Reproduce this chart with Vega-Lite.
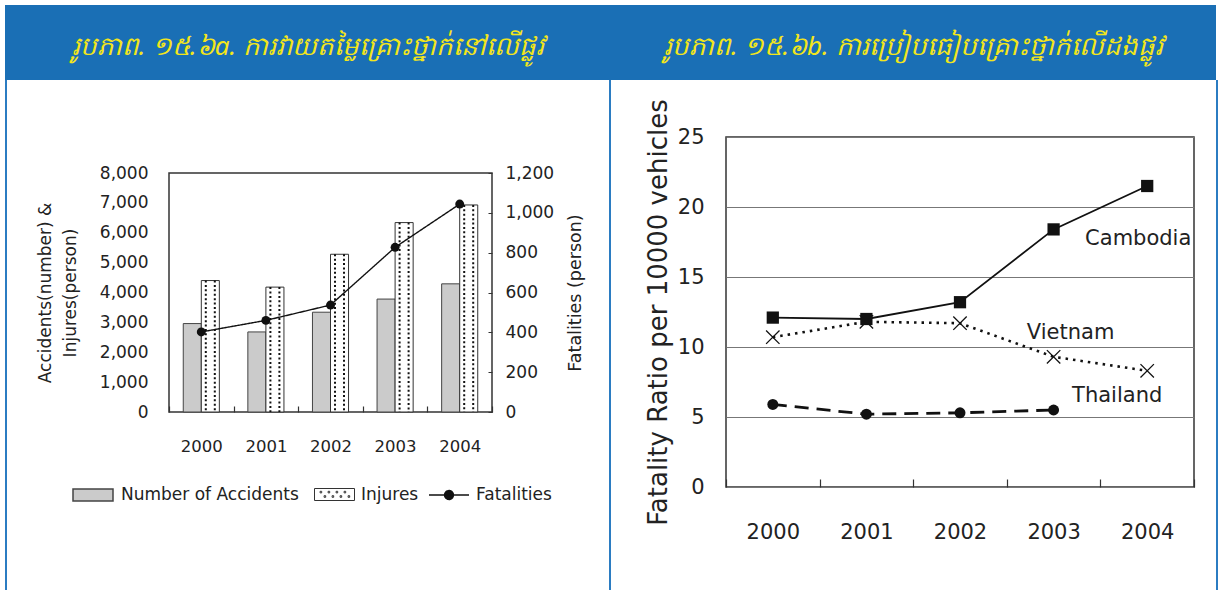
{
  "$schema": "https://vega.github.io/schema/vega-lite/v6.json",
  "background": "white",
  "padding": {"left": 5, "top": 5, "right": 0, "bottom": 0},
  "spacing": 0,
  "config": {
    "font": "DejaVu Sans",
    "view": {"stroke": "#333333", "strokeWidth": 1.5},
    "axis": {"labelColor": "#222222", "titleColor": "#222222", "titleFontWeight": "normal", "domain": false, "grid": false, "labelFont": "DejaVu Sans", "titleFont": "DejaVu Sans", "labelOverlap": false},
    "legend": {"labelFont": "DejaVu Sans"}
  },
  "datasets": {
    "bars": [
      {"year": "2000", "series": "Number of Accidents", "value": 2960},
      {"year": "2000", "series": "Injures", "value": 4400},
      {"year": "2001", "series": "Number of Accidents", "value": 2680},
      {"year": "2001", "series": "Injures", "value": 4180},
      {"year": "2002", "series": "Number of Accidents", "value": 3340},
      {"year": "2002", "series": "Injures", "value": 5280},
      {"year": "2003", "series": "Number of Accidents", "value": 3780},
      {"year": "2003", "series": "Injures", "value": 6340},
      {"year": "2004", "series": "Number of Accidents", "value": 4290},
      {"year": "2004", "series": "Injures", "value": 6930}
    ],
    "fatal": [
      {"year": "2000", "value": 402},
      {"year": "2001", "value": 460},
      {"year": "2002", "value": 537},
      {"year": "2003", "value": 827},
      {"year": "2004", "value": 1044}
    ],
    "ratio": [
      {"country": "Cambodia", "year": "2000", "value": 12.1},
      {"country": "Cambodia", "year": "2001", "value": 12.0},
      {"country": "Cambodia", "year": "2002", "value": 13.2},
      {"country": "Cambodia", "year": "2003", "value": 18.4},
      {"country": "Cambodia", "year": "2004", "value": 21.5},
      {"country": "Vietnam", "year": "2000", "value": 10.7},
      {"country": "Vietnam", "year": "2001", "value": 11.8},
      {"country": "Vietnam", "year": "2002", "value": 11.7},
      {"country": "Vietnam", "year": "2003", "value": 9.3},
      {"country": "Vietnam", "year": "2004", "value": 8.3},
      {"country": "Thailand", "year": "2000", "value": 5.9},
      {"country": "Thailand", "year": "2001", "value": 5.2},
      {"country": "Thailand", "year": "2002", "value": 5.3},
      {"country": "Thailand", "year": "2003", "value": 5.5}
    ]
  },
  "vconcat": [
    {
      "width": 1211,
      "height": 75,
      "view": {"fill": "#1a6fb5", "stroke": null},
      "data": {"values": [
        {"k": "a", "t": "រូបភាព. ១៥.៦a. ការវាយតម្លៃគ្រោះថ្នាក់នៅលើផ្លូវ"},
        {"k": "b", "t": "រូបភាព. ១៥.៦b. ការប្រៀបធៀបគ្រោះថ្នាក់លើដងផ្លូវ"}
      ]},
      "mark": {"type": "text", "color": "#f3e61a", "fontSize": 26, "fontStyle": "italic", "font": "Noto Sans", "dy": 4},
      "encoding": {
        "x": {"field": "k", "type": "nominal", "scale": {"type": "point", "padding": 0.5}, "axis": null},
        "text": {"field": "t"}
      }
    },
    {
      "spacing": 0,
      "hconcat": [
        {"width": 2, "height": 510, "view": {"fill": "#2b7cc2", "stroke": null}, "data": {"values": []}, "mark": "point"},
        {"width": 28, "height": 1, "view": {"stroke": null}, "data": {"values": []}, "mark": "point"},
        {
          "spacing": 0,
          "vconcat": [
            {"width": 10, "height": 83, "view": {"stroke": null}, "data": {"values": []}, "mark": "point"},
            {
              "width": 323,
              "height": 239,
              "layer": [
                {
                  "layer": [
                    {
                      "data": {"name": "bars"},
                      "transform": [{"filter": "datum.series === 'Number of Accidents'"}],
                      "mark": {"type": "bar", "stroke": "#444444", "strokeWidth": 1},
                      "encoding": {
                        "x": {"field": "year", "type": "ordinal", "scale": {"paddingInner": 0, "paddingOuter": 0},
                          "axis": {"title": null, "labelAngle": 0, "labelFontSize": 16.5, "tickBand": "extent", "tickSize": -6, "tickColor": "#333333", "tickWidth": 1.2, "labelPadding": 32}},
                        "xOffset": {"field": "series", "type": "nominal", "sort": ["Number of Accidents", "Injures"], "scale": {"domain": ["Number of Accidents", "Injures"], "paddingInner": 0, "paddingOuter": 0.79}},
                        "y": {"field": "value", "type": "quantitative", "scale": {"domain": [0, 8000]},
                          "axis": {"title": ["Accidents(number) &", "Injures(person)"], "values": [0, 1000, 2000, 3000, 4000, 5000, 6000, 7000, 8000], "tickCount": 12, "format": ",d", "labelOverlap": false, "labelFontSize": 17, "ticks": false, "labelPadding": 21, "titleFontSize": 17, "titleLineHeight": 25, "titlePadding": 20}},
                        "fill": {"datum": "Number of Accidents", "type": "nominal", "scale": {"range": ["#cbcbcb"]},
                          "legend": {"orient": "none", "legendX": 67, "legendY": 469, "title": null, "symbolType": "M-1,-0.3H1V0.3H-1Z", "symbolSize": 1600, "labelFontSize": 17, "labelOffset": 7, "labelColor": "#222222", "labelLimit": 400}}
                      }
                    },
                    {
                      "data": {"name": "bars"},
                      "transform": [{"filter": "datum.series === 'Injures'"}],
                      "mark": {"type": "bar", "fill": "#ffffff", "strokeWidth": 1},
                      "encoding": {
                        "x": {"field": "year", "type": "ordinal"},
                        "xOffset": {"field": "series", "type": "nominal", "sort": ["Number of Accidents", "Injures"], "scale": {"domain": ["Number of Accidents", "Injures"]}},
                        "y": {"field": "value", "type": "quantitative", "scale": {"domain": [0, 8000]}},
                        "stroke": {"datum": "Injures", "type": "nominal", "scale": {"range": ["#333333"]},
                          "legend": {"orient": "none", "legendX": 309, "legendY": 469, "title": null, "symbolType": "M-1,-0.3H1V0.3H-1ZM-0.72,-0.16h0.08v0.08h-0.08ZM-0.32,-0.16h0.08v0.08h-0.08ZM0.08,-0.16h0.08v0.08h-0.08ZM0.48,-0.16h0.08v0.08h-0.08ZM-0.52,0.06h0.08v0.08h-0.08ZM-0.12,0.06h0.08v0.08h-0.08ZM0.28,0.06h0.08v0.08h-0.08ZM0.68,0.06h0.08v0.08h-0.08Z", "symbolSize": 1600, "symbolStrokeWidth": 1, "labelFontSize": 17, "labelOffset": 6, "labelColor": "#222222", "labelLimit": 400}}
                      }
                    },
                    {
                      "data": {"name": "bars"},
                      "transform": [{"filter": "datum.series === 'Injures'"}],
                      "mark": {"type": "rule", "color": "#111111", "strokeWidth": 2, "strokeDash": [2, 2.4], "xOffset": 4.5},
                      "encoding": {
                        "x": {"field": "year", "type": "ordinal"},
                        "y": {"field": "value", "type": "quantitative"},
                        "y2": {"datum": 0}
                      }
                    },
                    {
                      "data": {"name": "bars"},
                      "transform": [{"filter": "datum.series === 'Injures'"}],
                      "mark": {"type": "rule", "color": "#111111", "strokeWidth": 2, "strokeDash": [2, 2.4], "xOffset": 13.5},
                      "encoding": {
                        "x": {"field": "year", "type": "ordinal"},
                        "y": {"field": "value", "type": "quantitative"},
                        "y2": {"datum": 0}
                      }
                    }
                  ]
                },
                {
                  "data": {"name": "fatal"},
                  "layer": [
                    {
                      "mark": {"type": "line", "color": "#111111", "strokeWidth": 1.4},
                      "encoding": {
                        "x": {"field": "year", "type": "ordinal"},
                        "y": {"field": "value", "type": "quantitative", "scale": {"domain": [0, 1200]},
                          "axis": {"orient": "right", "title": "Fatalities (person)", "titleAngle": 270, "titleBaseline": "top", "values": [0, 200, 400, 600, 800, 1000, 1200], "tickCount": 12, "format": ",d", "labelOverlap": false, "labelFontSize": 17, "ticks": true, "tickSize": -4, "tickColor": "#333333", "labelPadding": 17, "titleFontSize": 17.5, "titlePadding": 13}},
                        "strokeDash": {"datum": "Fatalities", "type": "nominal", "scale": {"range": [[1, 0]]},
                          "legend": {"orient": "none", "legendX": 423, "legendY": 469, "title": null, "symbolType": "M-1,0H1M-0.22,0A0.22,0.22 0 1 1 0.22,0A0.22,0.22 0 1 1 -0.22,0Z", "symbolSize": 1600, "symbolFillColor": "#111111", "symbolStrokeColor": "#111111", "symbolStrokeWidth": 1.5, "labelFontSize": 17, "labelOffset": 6, "labelColor": "#222222", "labelLimit": 400}}
                      }
                    },
                    {
                      "mark": {"type": "point", "filled": true, "size": 80, "color": "#111111", "opacity": 1},
                      "encoding": {
                        "x": {"field": "year", "type": "ordinal"},
                        "y": {"field": "value", "type": "quantitative"}
                      }
                    }
                  ]
                }
              ],
              "resolve": {"scale": {"y": "independent"}}
            }
          ]
        },
        {"width": 24, "height": 1, "view": {"stroke": null}, "data": {"values": []}, "mark": "point"},
        {"width": 2, "height": 510, "view": {"fill": "#2b7cc2", "stroke": null}, "data": {"values": []}, "mark": "point"},
        {"width": 33, "height": 1, "view": {"stroke": null}, "data": {"values": []}, "mark": "point"},
        {
          "spacing": 0,
          "vconcat": [
            {"width": 10, "height": 17, "view": {"stroke": null}, "data": {"values": []}, "mark": "point"},
            {
              "width": 468,
              "height": 350,
              "data": {"name": "ratio"},
              "layer": [
                {
                  "transform": [{"filter": "datum.country === 'Cambodia'"}],
                  "mark": {"type": "line", "color": "#111111", "strokeWidth": 1.8},
                  "encoding": {
                    "x": {"field": "year", "type": "ordinal", "scale": {"paddingInner": 0, "paddingOuter": 0},
                      "axis": {"title": null, "labelAngle": 0, "labelFontSize": 21, "tickBand": "extent", "tickSize": -8, "tickColor": "#333333", "tickWidth": 1.2, "labelPadding": 42}},
                    "y": {"field": "value", "type": "quantitative", "scale": {"domain": [0, 25], "nice": false},
                      "axis": {"title": "Fatality Ratio per 10000 vehicles", "values": [0, 5, 10, 15, 20, 25], "tickCount": 12, "labelOverlap": false, "grid": true, "gridColor": "#777777", "gridWidth": 1, "ticks": false, "labelFontSize": 21, "labelPadding": 22, "titleFontSize": 26, "titlePadding": 6}}
                  }
                },
                {
                  "transform": [{"filter": "datum.country === 'Cambodia'"}],
                  "mark": {"type": "point", "shape": "square", "filled": true, "size": 150, "color": "#111111", "opacity": 1},
                  "encoding": {"x": {"field": "year", "type": "ordinal"}, "y": {"field": "value", "type": "quantitative"}}
                },
                {
                  "transform": [{"filter": "datum.country === 'Vietnam'"}],
                  "mark": {"type": "line", "color": "#111111", "strokeWidth": 2.6, "strokeDash": [2.5, 5]},
                  "encoding": {"x": {"field": "year", "type": "ordinal"}, "y": {"field": "value", "type": "quantitative"}}
                },
                {
                  "transform": [{"filter": "datum.country === 'Vietnam'"}],
                  "mark": {"type": "point", "shape": "M-1,-1L1,1M-1,1L1,-1", "filled": false, "size": 180, "strokeWidth": 1.3, "color": "#111111", "opacity": 1},
                  "encoding": {"x": {"field": "year", "type": "ordinal"}, "y": {"field": "value", "type": "quantitative"}}
                },
                {
                  "transform": [{"filter": "datum.country === 'Thailand'"}],
                  "mark": {"type": "line", "color": "#111111", "strokeWidth": 2.8, "strokeDash": [14, 8]},
                  "encoding": {"x": {"field": "year", "type": "ordinal"}, "y": {"field": "value", "type": "quantitative"}}
                },
                {
                  "transform": [{"filter": "datum.country === 'Thailand'"}],
                  "mark": {"type": "point", "shape": "circle", "filled": true, "size": 120, "color": "#111111", "opacity": 1},
                  "encoding": {"x": {"field": "year", "type": "ordinal"}, "y": {"field": "value", "type": "quantitative"}}
                },
                {
                  "data": {"values": [{"year": "2004", "value": 17.7, "label": "Cambodia"}]},
                  "mark": {"type": "text", "fontSize": 21, "dx": -9, "color": "#222222"},
                  "encoding": {"x": {"field": "year", "type": "ordinal"}, "y": {"field": "value", "type": "quantitative"}, "text": {"field": "label"}}
                },
                {
                  "data": {"values": [{"year": "2003", "value": 11.0, "label": "Vietnam"}]},
                  "mark": {"type": "text", "fontSize": 21, "dx": 17, "color": "#222222"},
                  "encoding": {"x": {"field": "year", "type": "ordinal"}, "y": {"field": "value", "type": "quantitative"}, "text": {"field": "label"}}
                },
                {
                  "data": {"values": [{"year": "2004", "value": 6.5, "label": "Thailand"}]},
                  "mark": {"type": "text", "fontSize": 21, "dx": -30, "color": "#222222"},
                  "encoding": {"x": {"field": "year", "type": "ordinal"}, "y": {"field": "value", "type": "quantitative"}, "text": {"field": "label"}}
                }
              ]
            }
          ]
        },
        {"width": 20, "height": 1, "view": {"stroke": null}, "data": {"values": []}, "mark": "point"},
        {"width": 2, "height": 510, "view": {"fill": "#2b7cc2", "stroke": null}, "data": {"values": []}, "mark": "point"}
      ]
    }
  ]
}
